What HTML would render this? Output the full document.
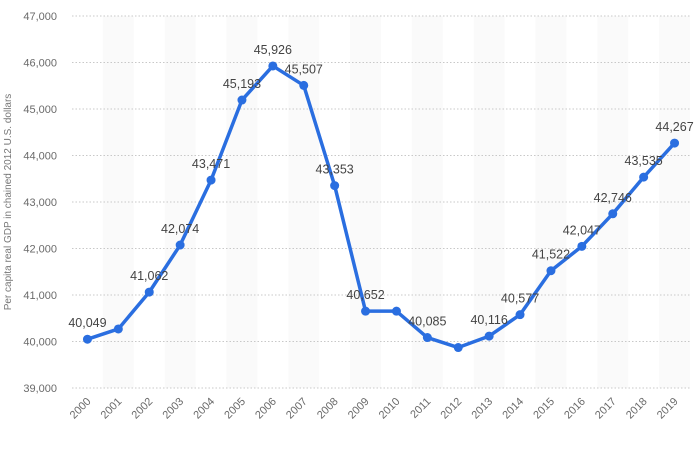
<!DOCTYPE html>
<html><head><meta charset="utf-8"><style>
body{margin:0;background:#fff;font-family:"Liberation Sans",sans-serif}
</style></head><body>
<svg id="c" width="696" height="445" xmlns="http://www.w3.org/2000/svg"></svg>
<script>
const years=["2000","2001","2002","2003","2004","2005","2006","2007","2008","2009","2010","2011","2012","2013","2014","2015","2016","2017","2018","2019"];
const values=[40049,40270,41062,42074,43471,45193,45926,45507,43353,40652,40652,40085,39870,40116,40577,41522,42047,42746,43535,44267];
const shown=[1,0,1,1,1,1,1,1,1,1,0,1,0,1,1,1,1,1,1,1];
const yTicks=[39000,40000,41000,42000,43000,44000,45000,46000,47000];
const svg=document.getElementById('c');const NS="http://www.w3.org/2000/svg";
const L=72,R=690,T=16,B=388,ymin=39000,ymax=47000;
const step=(R-L)/years.length;
const x=i=>L+step*(i+0.5);
const y=v=>B-(v-ymin)/(ymax-ymin)*(B-T);
function el(t,a,p){const e=document.createElementNS(NS,t);for(const k in a)e.setAttribute(k,a[k]);(p||svg).appendChild(e);return e;}
years.forEach((yr,i)=>{if(i%2==1){const r=el('rect',{x:L+step*i,y:T,width:step,height:B-T,fill:'#fafafa'});

}});
yTicks.forEach(v=>{const g=el('line',{x1:L,x2:R,y1:y(v),y2:y(v),stroke:'#c8c8c8','stroke-dasharray':'1.5,2'});


const t=el('text',{x:57,y:y(v)+4,'text-anchor':'end','font-size':'11',fill:'#6a6a6a'});t.textContent=v.toLocaleString('en-US');

});
years.forEach((yr,i)=>{const t=el('text',{x:x(i)+4,y:402,'text-anchor':'end','font-size':'11',fill:'#6a6a6a',transform:`rotate(-45 ${x(i)+4} 402)`});t.textContent=yr;

});
const yt=el('text',{x:11,y:(T+B)/2,'text-anchor':'middle','font-size':'10',fill:'#777',transform:`rotate(-90 11 ${(T+B)/2})`});
yt.textContent='Per capita real GDP in chained 2012 U.S. dollars';


const pl=el('polyline',{points:values.map((v,i)=>x(i)+','+y(v)).join(' '),fill:'none',stroke:'#2a6ee0','stroke-width':'3.5','stroke-linejoin':'round'});


values.forEach((v,i)=>{const c=el('circle',{cx:x(i),cy:y(v),r:4.5,fill:'#2a6ee0'});


if(shown[i]){const t=el('text',{x:x(i),y:y(v)-12,'text-anchor':'middle','font-size':'12.5',fill:'#444'});t.textContent=v.toLocaleString('en-US');

}});
</script>
</body></html>
